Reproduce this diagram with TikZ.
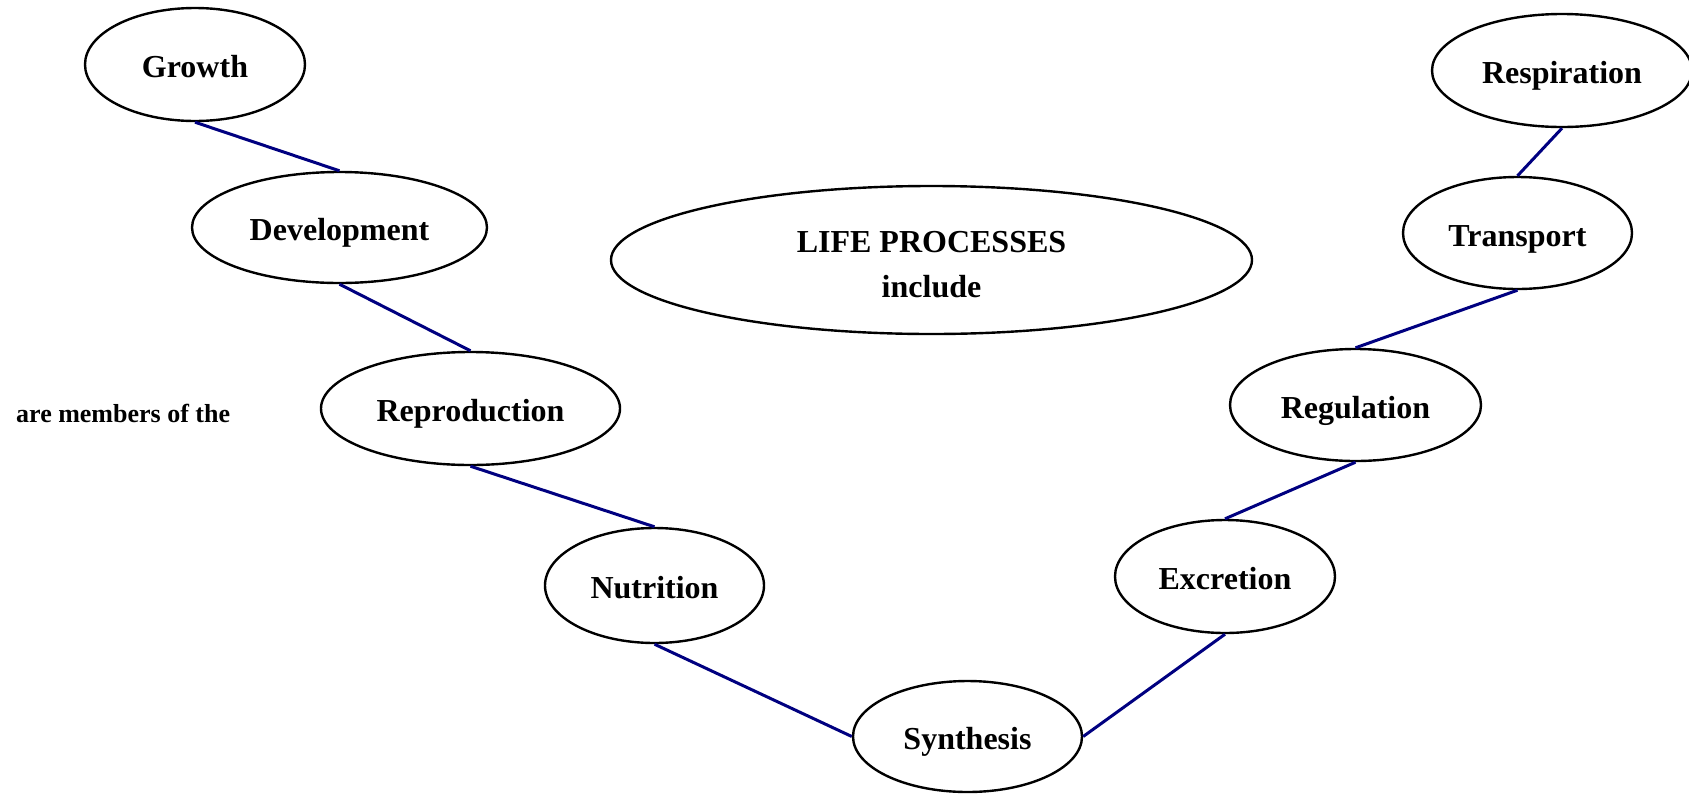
\documentclass[tikz,border=0pt]{standalone}
\usepackage{fontspec}
\setmainfont{Liberation Serif}
\usetikzlibrary{shapes.geometric}
\definecolor{linkblue}{RGB}{0,0,128}
\newcommand{\droptext}[1]{\raisebox{-6pt}[\height][\depth]{#1}}
\begin{document}
\begin{tikzpicture}[x=1pt,y=-1pt,
  proc/.style={ellipse,draw=black,line width=2.4pt,inner sep=0pt,
    font=\fontsize{32}{45}\selectfont\bfseries,align=center},
  word/.style={proc,text height=30pt,text depth=4pt},
  link/.style={draw=linkblue,line width=3pt}]
\useasboundingbox (0,0) rectangle (1689,793);
\clip (0,0) rectangle (1689,793);
% concept nodes
\node[word,minimum width=220pt,minimum height=113pt] (growth) at (195,64.5) {Growth};
\node[word,minimum width=295pt,minimum height=111pt] (dev) at (339.5,227.5) {Development};
\node[word,minimum width=299pt,minimum height=113pt] (repro) at (470.5,408.5) {Reproduction};
\node[word,minimum width=219pt,minimum height=115pt] (nutri) at (654.5,585.5) {Nutrition};
\node[word,minimum width=229pt,minimum height=111pt] (synth) at (967.5,736.5) {Synthesis};
\node[word,minimum width=220pt,minimum height=113pt] (excr) at (1225,576.5) {Excretion};
\node[word,minimum width=251pt,minimum height=112pt] (regul) at (1355.5,405) {Regulation};
\node[word,minimum width=229pt,minimum height=112pt] (trans) at (1517.5,233) {Transport};
\node[word,minimum width=260pt,minimum height=113pt] (resp) at (1562,70.5) {Respiration};
\node[proc,minimum width=641pt,minimum height=148pt] (life) at (931.5,260)
  {\droptext{\begin{tabular}{@{}c@{}}LIFE PROCESSES\\include\end{tabular}}};
% free label
\node[font=\fontsize{26}{30}\selectfont\bfseries,anchor=west,inner sep=0pt] (members) at (16,413) {are members of the};
% connectors
\draw[link] (growth.south) -- (dev.north);
\draw[link] (dev.south) -- (repro.north);
\draw[link] (repro.south) -- (nutri.north);
\draw[link] (nutri.south) -- (synth.west);
\draw[link] (synth.east) -- (excr.south);
\draw[link] (excr.north) -- (regul.south);
\draw[link] (regul.north) -- (trans.south);
\draw[link] (trans.north) -- (resp.south);
\end{tikzpicture}
\end{document}
